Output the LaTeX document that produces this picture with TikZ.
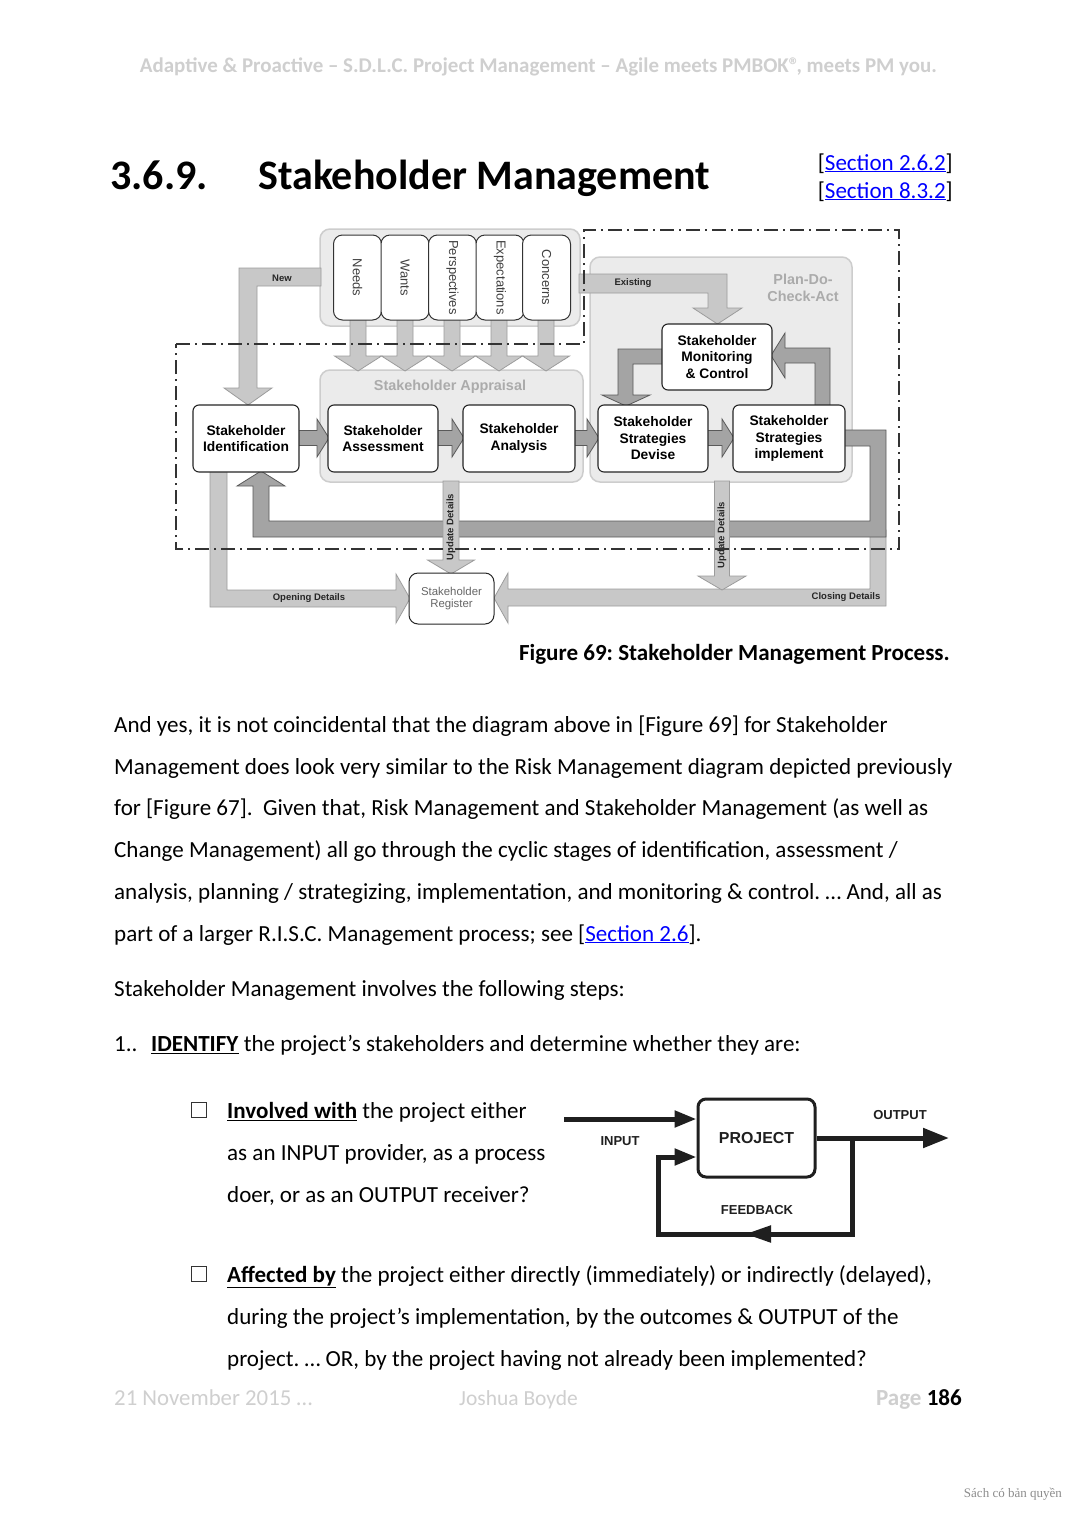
\documentclass[tikz,border=0pt]{standalone}
\usepackage{fontspec}
\setmainfont{Carlito}
\newfontfamily\arial{Liberation Sans}
\newfontfamily\tms{Liberation Serif}
\usetikzlibrary{arrows.meta,calc}
\frenchspacing
\definecolor{lgfill}{HTML}{C8C8C8}
\definecolor{lgdraw}{HTML}{9C9C9C}
\definecolor{dkfill}{HTML}{A4A4A4}
\definecolor{dkdraw}{HTML}{5A5A5A}
\definecolor{grpfill}{HTML}{EBEBEB}
\definecolor{grpdraw}{HTML}{CDCDCD}
\definecolor{hdrgray}{HTML}{CFCFCF}
\definecolor{linkblue}{HTML}{0000FF}
\definecolor{grplabel}{HTML}{ABABAB}
\newcommand\lnk[1]{\textcolor{linkblue}{\underline{#1}}}
\newcommand\arrR[7]{\draw[#1] (#2,#4-#5) -- (#3-#6,#4-#5) -- (#3-#6,#4-#7) -- (#3,#4) -- (#3-#6,#4+#7) -- (#3-#6,#4+#5) -- (#2,#4+#5) -- cycle;}
\newcommand\arrD[7]{\draw[#1] (#2-#5,#3) -- (#2-#5,#4-#6) -- (#2-#7,#4-#6) -- (#2,#4) -- (#2+#7,#4-#6) -- (#2+#5,#4-#6) -- (#2+#5,#3) -- cycle;}
\tikzset{
  box/.style={draw=black!85, line width=1.1pt, fill=white, rounded corners=6pt, align=center,
    font=\arial\bfseries\fontsize{13.8}{16.5}\selectfont, inner sep=0pt, minimum height=67pt},
  vbox/.style={draw=black!80, line width=1pt, fill=white, rounded corners=9pt, rotate=-90,
    minimum width=85pt, minimum height=48pt, inner sep=0pt,
    font=\arial\fontsize{13}{15}\selectfont, text=black!75},
  grp/.style={draw=grpdraw, line width=1.5pt, fill=grpfill, rounded corners=10pt, inner sep=0pt},
  larrow/.style={fill=lgfill, draw=lgdraw, line width=0.8pt, line join=miter},
  darrow/.style={fill=dkfill, draw=dkdraw, line width=0.8pt, line join=miter},
  lbl/.style={font=\arial\bfseries\fontsize{9.5}{11}\selectfont, text=black!85, inner sep=0pt},
  grplbl/.style={font=\arial\bfseries\fontsize{14.4}{17}\selectfont, text=grplabel, inner sep=0pt, align=center},
  ddline/.style={draw=black!80, line width=1.2pt, dash pattern=on 14pt off 5pt on 2pt off 5pt},
  txt/.style={anchor=base west, inner sep=0pt, font=\fontsize{23.05}{27}\selectfont},
  cbox/.style={draw=black!80, line width=1.1pt, minimum size=15pt, inner sep=0pt},
  thk/.style={line width=5pt, draw=black!88, line join=miter},
  sm/.style={font=\arial\bfseries\fontsize{13}{15}\selectfont, text=black!88, inner sep=0pt}
}
\begin{document}
\begin{tikzpicture}[x=1pt,y=-1pt]
\fill[white] (0,0) rectangle (1077,1521);
\useasboundingbox (0,0) rectangle (1077,1521);

% header and title
\node[anchor=base, inner sep=0pt, font=\bfseries\fontsize{20.95}{24}\selectfont, text=hdrgray] (hdr) at (538.5,72)
  {Adaptive \& Proactive – S.D.L.C. Project Management – Agile meets PMBOK®\kern-3pt, meets PM you.};
\node[anchor=base west, inner sep=0pt, font=\bfseries\fontsize{42}{48}\selectfont] (secnum) at (110,189) {3.6.9.};
\node[anchor=base west, inner sep=0pt, font=\bfseries\fontsize{42}{48}\selectfont] (sectitle) at (258,189) {Stakeholder Management};
\node[anchor=base east, inner sep=0pt, font=\fontsize{23.05}{27}\selectfont] (ref1) at (953,170) {[\lnk{Section 2.6.2}]};
\node[anchor=base east, inner sep=0pt, font=\fontsize{23.05}{27}\selectfont] (ref2) at (953,198) {[\lnk{Section 8.3.2}]};

% ===== main diagram =====
\node[grp, minimum width=260pt, minimum height=97pt] (topgrp) at (450,277.5) {};
\node[grp, minimum width=263pt, minimum height=112pt] (apprgrp) at (451.5,426) {};
\node[grp, minimum width=262pt, minimum height=225pt] (pdcagrp) at (721,369.5) {};

% light arrows
\draw[larrow] (321,268) -- (239,268) -- (239,388) -- (224,388) -- (248,405) -- (272,388) -- (257,388) -- (257,286) -- (321,286) -- cycle;
\draw[larrow] (579,274) -- (727,274) -- (727,308) -- (742,308) -- (717.5,324) -- (693,308) -- (708,308) -- (708,293) -- (579,293) -- cycle;
\foreach \x in {358,405,452,499,546} {\arrD{larrow}{\x}{318}{371}{8}{15}{23.5}}
\draw[larrow] (210,470) -- (210,607) -- (396,607) -- (396,623) -- (410,598.5) -- (396,574) -- (396,590) -- (227,590) -- (227,470) -- cycle;
\draw[larrow] (886,530) -- (886,606) -- (508,606) -- (508,623) -- (494,598) -- (508,573) -- (508,589) -- (870,589) -- (870,530) -- cycle;

% dark arrows
\arrR{darrow}{297}{329}{438}{7.5}{12}{19}
\arrR{darrow}{436}{464}{438}{7.5}{12}{19}
\arrR{darrow}{573}{599}{438}{7.5}{12}{19}
\arrR{darrow}{706}{734}{438}{7.5}{12}{19}
\draw[darrow] (663,349) -- (618,349) -- (618,395) -- (602,395) -- (626,406) -- (650,395) -- (633,395) -- (633,364) -- (663,364) -- cycle;
\draw[darrow] (815,406) -- (815,363) -- (785,363) -- (785,378) -- (771,355.5) -- (785,333) -- (785,348) -- (830,348) -- (830,406) -- cycle;
\draw[darrow] (844,430) -- (886,430) -- (886,537) -- (253,537) -- (253,486) -- (237,486) -- (261,471) -- (285,486) -- (269,486) -- (269,521) -- (870,521) -- (870,446) -- (844,446) -- cycle;

% update details arrows
\arrD{larrow}{451}{481}{574}{8}{14}{23.5}
\arrD{larrow}{722}{481}{590}{7.5}{14}{24}

% boxes
\node[vbox] (needs) at (357.5,277.5) {Needs};
\node[vbox] (wants) at (405,277.5) {Wants};
\node[vbox] (persp) at (452.5,277.5) {Perspectives};
\node[vbox] (expect) at (500,277.5) {Expectations};
\node[vbox] (concern) at (546.5,277.5) {Concerns};
\node[box, minimum width=106pt] (ident) at (246,438.5) {Stakeholder\\Identification};
\node[box, minimum width=110pt] (assess) at (383,438.5) {Stakeholder\\Assessment};
\node[box, minimum width=112pt] (analysis) at (519,438.5) {Stakeholder\\Analysis};
\node[box, minimum width=110pt] (devise) at (653,438.5) {Stakeholder\\Strategies\\Devise};
\node[box, minimum width=112pt] (implement) at (789,438.5) {Stakeholder\\Strategies\\implement};
\node[box, minimum width=110pt, minimum height=66pt] (monitor) at (717,357) {Stakeholder\\Monitoring\\\& Control};
\node[box, minimum width=85pt, minimum height=51pt, line width=1pt, font=\arial\fontsize{11.4}{12.8}\selectfont, text=black!60, rounded corners=9pt] (register) at (451.5,598.5) {Stakeholder\\Register};

% labels
\node[grplbl] (apprlbl) at (450,387) {Stakeholder Appraisal};
\node[grplbl, font=\arial\bfseries\fontsize{14.4}{17}\selectfont] (pdcalbl) at (803,287.5) {Plan-Do-\\Check-Act};
\node[lbl] (newlbl) at (282,278) {New};
\node[lbl] (exlbl) at (633,283) {Existing};
\node[lbl] (oplbl) at (309,598.5) {Opening Details};
\node[lbl] (cllbl) at (846,597) {Closing Details};
\node[lbl, rotate=90] (up1) at (451,527) {Update Details};
\node[lbl, rotate=90] (up2) at (722,535) {Update Details};

% dash-dot boundary
\draw[ddline] (176,344) -- (584,344) -- (584,230) -- (899,230) -- (899,549) -- (176,549) -- cycle;

% caption
\node[anchor=base east, inner sep=0pt, font=\bfseries\fontsize{23.05}{27}\selectfont] (cap) at (950,660.5) {Figure 69: Stakeholder Management Process.};

% body text
\node[txt] (p1) at (114,732) {And yes, it is not coincidental that the diagram above in [Figure 69] for Stakeholder};
\node[txt] (p2) at (114,774) {Management does look very similar to the Risk Management diagram depicted previously};
\node[txt] (p3) at (114,815.5) {for [Figure 67].\ \ Given that, Risk Management and Stakeholder Management (as well as};
\node[txt] (p4) at (114,857.5) {Change Management) all go through the cyclic stages of identification, assessment /};
\node[txt] (p5) at (114,899) {analysis, planning / strategizing, implementation, and monitoring \& control. … And, all as};
\node[txt] (p6) at (114,941) {part of a larger R.I.S.C. Management process; see [\lnk{Section 2.6}].};
\node[txt] (p7) at (114,996.5) {Stakeholder Management involves the following steps:};
\node[txt] (n1) at (114,1051.5) {1..};
\node[txt] (n1t) at (151,1051.5) {\underline{\textbf{IDENTIFY}} the project’s stakeholders and determine whether they are:};
\node[cbox] (cb1) at (199,1110) {};
\node[txt] (i1a) at (227,1118.5) {\underline{\textbf{Involved with}} the project either};
\node[txt] (i1b) at (227,1160.5) {as an INPUT provider, as a process};
\node[txt] (i1c) at (227,1202.5) {doer, or as an OUTPUT receiver?};
\node[cbox] (cb2) at (199,1274) {};
\node[txt] (i2a) at (227,1282.5) {\underline{\textbf{Affected by}} the project either directly (immediately) or indirectly (delayed),};
\node[txt] (i2b) at (227,1324.5) {during the project’s implementation, by the outcomes \& OUTPUT of the};
\node[txt] (i2c) at (227,1366.5) {project. … OR, by the project having not already been implemented?};

% ===== small input/output diagram =====
\node[draw=black!88, line width=3pt, rounded corners=8pt, minimum width=117pt, minimum height=78pt, inner sep=0pt,
  font=\arial\bfseries\fontsize{15.9}{18}\selectfont, text=black!88] (proj) at (756.5,1138) {PROJECT};
\coordinate (in1) at (564,1119);
\coordinate (outEnd) at (949,1138);
\coordinate (fbA) at (852,1138);
\coordinate (fbB) at (852,1234);
\coordinate (fbC) at (658,1234);
\coordinate (fbD) at (658,1157);
\coordinate (fbM) at (745,1234);
\draw[thk, -{Triangle[length=22pt,width=16pt]}] (in1) -- (in1 -| proj.west);
\draw[thk, -{Triangle[length=26pt,width=19pt]}] (proj.east) -- (outEnd);
\draw[thk, -{Triangle[length=22pt,width=16pt]}] (fbA) -- (fbB) -- (fbC) -- (fbD) -- (fbD -| proj.west);
\draw[thk, -{Triangle[length=26pt,width=16pt]}] (fbB) -- (fbM);
\node[sm] (inlbl) at (620,1141) {INPUT};
\node[sm] (outlbl) at (900,1115) {OUTPUT};
\node[sm] (fblbl) at (757,1210) {FEEDBACK};

% footer
\node[txt, text=hdrgray, font=\fontsize{22.8}{27}\selectfont] (f1) at (114,1405.5) {21 November 2015 …};
\node[txt, text=hdrgray, font=\fontsize{21.5}{27}\selectfont] (f2) at (459,1405.5) {Joshua Boyde};
\node[anchor=base east, inner sep=0pt, font=\fontsize{23.05}{27}\selectfont] (f3) at (962,1405.5) {\textcolor{hdrgray}{\textbf{Page}} \textbf{186}};
\node[anchor=base east, inner sep=0pt, font=\tms\fontsize{13}{15}\selectfont, text=black!45] (wm) at (1062,1497) {Sách có bản quyền};
\end{tikzpicture}
\end{document}
